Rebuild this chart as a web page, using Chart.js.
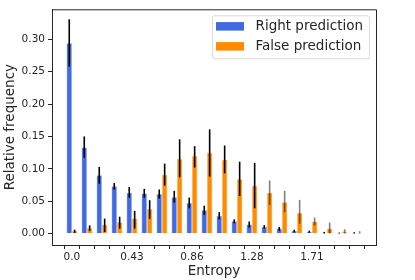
<!DOCTYPE html>
<html>
<head>
<meta charset="utf-8">
<script src="https://cdn.jsdelivr.net/npm/chart.js@4.4.1/dist/chart.umd.min.js"></script>
<style>
  html, body { margin: 0; padding: 0; background: #fff; }
  #wrap { width: 415px; height: 280px; }
</style>
</head>
<body>
<div id="wrap"><canvas id="c" width="415" height="280"></canvas></div>
<script>
// Bin entropy values (categories)
const categories = ['0.0','0.11','0.21','0.32','0.43','0.54','0.64','0.75','0.86','0.96',
                    '1.07','1.18','1.28','1.39','1.5','1.61','1.71','1.82','1.93','2.03'];
const labelEvery = 4;

// Right prediction: value, lower, upper
const rightVals = [0.294, 0.133, 0.090, 0.073, 0.063, 0.062, 0.061, 0.056, 0.047, 0.036,
                   0.027, 0.019, 0.014, 0.010, 0.0076, 0.004, 0.0025, 0.001, 0.0006, 0.0005];
const rightLo   = [0.258, 0.117, 0.077, 0.068, 0.0555, 0.0555, 0.054, 0.048, 0.039, 0.029,
                   0.022, 0.016, 0.0095, 0.0076, 0.0045, 0.002, 0.001, 0.0, 0.0, 0.0];
const rightHi   = [0.331, 0.150, 0.103, 0.078, 0.072, 0.069, 0.068, 0.066, 0.0555, 0.043,
                   0.033, 0.022, 0.0186, 0.013, 0.010, 0.006, 0.0045, 0.0025, 0.0015, 0.002];

// False prediction: value, lower, upper
const falseVals = [0.004, 0.0085, 0.0136, 0.0176, 0.0232, 0.038, 0.091, 0.115, 0.120, 0.125,
                   0.114, 0.084, 0.074, 0.063, 0.0485, 0.032, 0.0186, 0.0076, 0.003, 0.0005];
const falseLo   = [0.001, 0.004, 0.0024, 0.0076, 0.0076, 0.0227, 0.074, 0.087, 0.102, 0.088,
                   0.093, 0.058, 0.039, 0.044, 0.033, 0.015, 0.0126, 0.0, 0.0, 0.0];
const falseHi   = [0.006, 0.0126, 0.023, 0.026, 0.035, 0.0515, 0.108, 0.1455, 0.135, 0.161,
                   0.136, 0.111, 0.109, 0.082, 0.066, 0.052, 0.0247, 0.017, 0.0066, 0.0035];

const yTicks = [0, 0.05, 0.10, 0.15, 0.20, 0.25, 0.30];

const FONT = "'DejaVu Sans', sans-serif";
const INK = '#262626';

const errorBars = {
  id: 'errorBars',
  afterDatasetsDraw(chart) {
    const ctx = chart.ctx;
    const ys = chart.scales.y;
    ctx.save();
    chart.data.datasets.forEach((ds, di) => {
      const meta = chart.getDatasetMeta(di);
      meta.data.forEach((bar, i) => {
        const lo = ds.errLo[i], hi = ds.errHi[i];
        ctx.strokeStyle = (ds.fadeFrom !== undefined && i >= ds.fadeFrom) ? 'rgba(0,0,0,0.5)' : '#000';
        ctx.lineWidth = 1.6;
        ctx.beginPath();
        ctx.moveTo(bar.x, ys.getPixelForValue(lo));
        ctx.lineTo(bar.x, ys.getPixelForValue(hi));
        ctx.stroke();
      });
    });
    ctx.restore();
  }
};

const frame = {
  id: 'frame',
  afterDraw(chart) {
    const { ctx, chartArea: a } = chart;
    ctx.save();
    ctx.strokeStyle = INK;
    ctx.lineWidth = 1;
    ctx.beginPath();
    ctx.moveTo(a.left, a.top + 0.5);
    ctx.lineTo(a.right + 0.5, a.top + 0.5);
    ctx.lineTo(a.right + 0.5, a.bottom);
    ctx.stroke();
    ctx.restore();
  }
};

const legendBox = {
  id: 'legendBox',
  afterDraw(chart) {
    const { ctx, chartArea: a } = chart;
    const bx = a.right - 164, by = a.top + 6, bw = 157, bh = 43;
    ctx.save();
    ctx.fillStyle = 'rgba(255,255,255,0.85)';
    ctx.strokeStyle = '#d9d9d9';
    ctx.lineWidth = 1;
    ctx.beginPath();
    ctx.roundRect(bx + 0.5, by + 0.5, bw, bh, 2);
    ctx.fill();
    ctx.stroke();
    ctx.font = "13.5px " + FONT;
    ctx.textBaseline = 'middle';
    chart.data.datasets.forEach((ds, i) => {
      const cy = by + 11 + i * 20;
      ctx.fillStyle = ds.backgroundColor;
      ctx.fillRect(bx + 4, cy - 4.2, 28, 8.5);
      ctx.fillStyle = INK;
      ctx.fillText(ds.label, bx + 43.5, cy + 0.5);
    });
    ctx.restore();
  }
};

new Chart(document.getElementById('c'), {
  type: 'bar',
  data: {
    datasets: [
      {
        label: 'Right prediction',
        data: rightVals.map((v, i) => ({ x: i, y: v })),
        errLo: rightLo, errHi: rightHi,
        backgroundColor: '#4169E1',
        borderColor: 'rgba(140,165,238,0.9)',
        borderWidth: 0.6
      },
      {
        label: 'False prediction',
        data: falseVals.map((v, i) => ({ x: i, y: v })),
        errLo: falseLo, errHi: falseHi, fadeFrom: 13,
        backgroundColor: '#FF8C00',
        borderColor: 'rgba(255,190,110,0.9)',
        borderWidth: 0.6
      }
    ]
  },
  options: {
    responsive: false,
    animation: false,
    devicePixelRatio: 1,
    categoryPercentage: 0.72,
    barPercentage: 1.0,
    layout: { padding: { top: 4, right: 39, left: 0, bottom: 0 } },
    plugins: { legend: { display: false }, tooltip: { enabled: false } },
    scales: {
      x: {
        type: 'linear',
        min: -1.33, max: 20.27,
        offset: false,
        afterBuildTicks: s => { s.ticks = categories.map((c, i) => ({ value: i })); },
        afterFit: s => { s.height = 35; },
        ticks: {
          autoSkip: false, maxRotation: 0, padding: 2,
          color: INK, font: { family: FONT, size: 10.5 },
          callback: v => (v % labelEvery === 0 ? categories[v] : '')
        },
        grid: { display: true, drawOnChartArea: false, drawTicks: true, tickLength: 4, color: INK },
        border: { display: true, color: INK, width: 1 },
        title: { display: true, text: 'Entropy', color: INK,
                 font: { family: FONT, size: 13.5 }, padding: { top: 0, bottom: 0 } }
      },
      y: {
        min: -0.0177, max: 0.3464,
        afterBuildTicks: s => { s.ticks = yTicks.map(v => ({ value: v })); },
        afterFit: s => { s.width = 52; },
        ticks: {
          padding: 3, color: INK, font: { family: FONT, size: 10.5 },
          callback: v => v.toFixed(2)
        },
        grid: { display: true, drawOnChartArea: false, drawTicks: true, tickLength: 4, color: INK },
        border: { display: true, color: INK, width: 1 },
        title: { display: true, text: 'Relative frequency', color: INK,
                 font: { family: FONT, size: 13.5 }, padding: { top: 2.4, bottom: 2 } }
      }
    }
  },
  plugins: [errorBars, frame, legendBox]
});
</script>
</body>
</html>
